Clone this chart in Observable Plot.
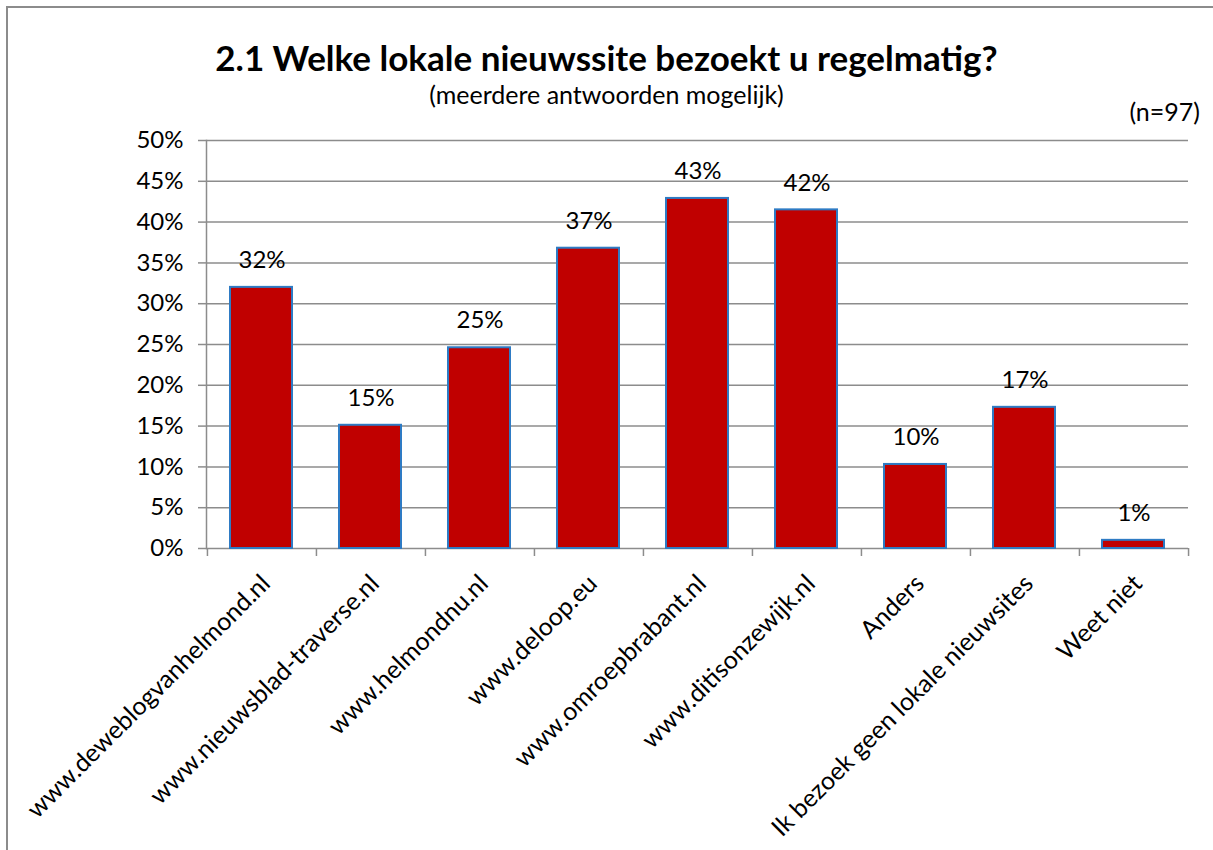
<!DOCTYPE html>
<html><head><meta charset="utf-8">
<script src="https://cdn.jsdelivr.net/npm/d3@7"></script>
<script src="https://cdn.jsdelivr.net/npm/@observablehq/plot@0.6"></script>
<style>
html,body{margin:0;padding:0;overflow:hidden;background:#fff;}
body{font-family:Lato,"Noto Sans",sans-serif;color:#000;}
#hline{position:absolute;left:6px;top:6px;width:1207px;height:2px;background:#8c8c8c;}
#vline{position:absolute;left:6px;top:6px;width:2px;height:844px;background:#8c8c8c;}
#title{position:absolute;left:0;width:1213px;top:39px;text-align:center;font-weight:bold;font-size:35px;line-height:36px;}
#subtitle{position:absolute;left:0;width:1213px;top:81px;text-align:center;font-size:25px;line-height:26px;}
#n{position:absolute;left:1000px;width:200px;text-align:right;top:97px;font-size:25px;line-height:28px;}
#chart{position:absolute;left:0;top:120px;}
</style></head><body>
<div id="hline"></div>
<div id="vline"></div>
<div id="title">2.1 Welke lokale nieuwssite bezoekt u regelmatig?</div>
<div id="subtitle">(meerdere antwoorden mogelijk)</div>
<div id="n">(n=97)</div>
<div id="chart"></div>
<script>
const categories = ["www.deweblogvanhelmond.nl","www.nieuwsblad-traverse.nl","www.helmondnu.nl","www.deloop.eu","www.omroepbrabant.nl","www.ditisonzewijk.nl","Anders","Ik bezoek geen lokale nieuwsites","Weet niet"];
const values = [32.0, 15.1, 24.6, 36.8, 42.9, 41.5, 10.3, 17.3, 1.0];
const yTicks = [0,5,10,15,20,25,30,35,40,45,50];

const data = categories.map((c,i)=>({category:c, value:values[i]}));
const W=1213, H=730, mL=206, mR=25, mT=20, mB=302;
const step=(W-mL-mR)/categories.length;
const gray="#8c8c8c";

const chart = Plot.plot({
  width:W, height:H, marginLeft:mL, marginRight:mR, marginTop:mT, marginBottom:mB,
  style:{fontFamily:"Lato, 'Noto Sans', sans-serif", fontSize:"24px", color:"#000", background:"transparent", overflow:"visible"},
  x:{domain:categories, padding:0, label:null},
  y:{domain:[0,50], label:null},
  marks:[
    Plot.ruleY(yTicks, {stroke:gray, strokeWidth:1.5}),
    Plot.frame({anchor:"left", stroke:gray, strokeWidth:1.5}),
    Plot.axisY(yTicks, {tickSize:8, tickPadding:15, tickFormat:d=>d+"%", stroke:gray, strokeWidth:1.5, fill:"#000", fontSize:24}),
    Plot.axisX(categories, {tickSize:8, tickFormat:()=>"", dx:-step/2, stroke:gray, strokeWidth:1.5}),
    Plot.axisX([categories[categories.length-1]], {tickSize:8, tickFormat:()=>"", dx:step/2, stroke:gray, strokeWidth:1.5}),
    Plot.axisX({tickRotate:-45, tickSize:0, tickPadding:31, dx:4, fontSize:25, fill:"#000"}),
    Plot.barY(data, {x:"category", y:"value", fill:"#c00000", stroke:"#2e7bc4", strokeWidth:2, insetLeft:23, insetRight:24}),
    Plot.text(data, {x:"category", y:"value", text:d=>Math.round(d.value)+"%", dy:-27, fontSize:24, fill:"#000"})
  ]
});
document.getElementById("chart").appendChild(chart);
</script>
</body></html>
